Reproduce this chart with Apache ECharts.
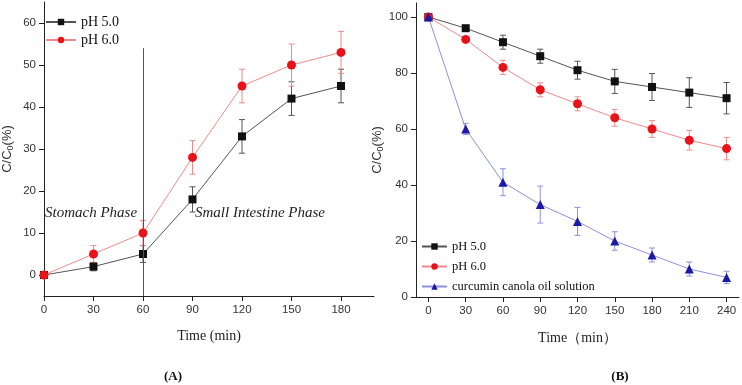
<!DOCTYPE html>
<html>
<head>
<meta charset="utf-8">
<script src="https://cdn.jsdelivr.net/npm/echarts@6.0.0/dist/echarts.min.js"></script>
<style>
  html, body { margin: 0; padding: 0; background: #fff; }
  #chart { width: 742px; height: 385px; }
</style>
</head>
<body>
<div id="chart"></div>
<script>
// (A) release in simulated digestion
const timeA = [0, 30, 60, 90, 120, 150, 180];
const phA5 = [0, 2, 5, 18, 33, 42, 45];
const errA5 = [0, 1, 2, 3, 4, 4, 4];
const phA6 = [0, 5, 10, 28, 45, 50, 53];
const errA6 = [0, 2, 3, 4, 4, 5, 5];
const ticksAx = [0, 30, 60, 90, 120, 150, 180];
const ticksAy = [0, 10, 20, 30, 40, 50, 60];
const phaseLine = [60, -5, 54]; // x, from, to

// (B) retention during storage
const timeB = [0, 30, 60, 90, 120, 150, 180, 210, 240];
const phB5 = [100, 96, 91, 86, 81, 77, 75, 73, 71];
const errB5 = [0, 1, 2.5, 2.5, 3.2, 4.3, 4.8, 5.3, 5.6];
const phB6 = [100, 92, 82, 74, 69, 64, 60, 56, 53];
const errB6 = [0, 1, 2.5, 2.5, 2.5, 3, 3, 3.5, 4];
const oilB = [100, 60, 41, 33, 27, 20, 15, 10, 7];
const errOil = [0, 2, 4.8, 6.6, 5, 3.3, 2.5, 2.5, 2.2];
const ticksBx = [0, 30, 60, 90, 120, 150, 180, 210, 240];
const ticksBy = [0, 20, 40, 60, 80, 100];

const SERIF = "'Liberation Serif', 'Times New Roman', serif";
const SANS = "'Liberation Sans', Arial, sans-serif";

const C5 = { mark: "#111", line: "#555", err: "#555" };
const C6 = { mark: "#e8121a", line: "#f08a8a", err: "#f08a8a" };
const COIL = { mark: "#1a1aa6", line: "#8f8fe0", err: "#8f8fe0" };

const pairs = (xs, ys) => xs.map((x, i) => [x, ys[i]]);

function axisBase(ticks) {
  return {
    type: "value",
    axisLine: { show: true, onZero: false, lineStyle: { color: "#222", width: 1 } },
    axisTick: { show: true, length: 5, customValues: ticks, lineStyle: { color: "#222" } },
    axisLabel: { customValues: ticks, color: "#333", fontSize: 11.5, fontFamily: SANS, margin: 8 },
    splitLine: { show: false },
  };
}

const yName = {
  name: "{a|C/C}{b|0}{a|(%)}",
  nameLocation: "middle",
  nameRotate: 90,
  nameTextStyle: {
    rich: {
      a: { fontFamily: SANS, fontSize: 13, color: "#333" },
      b: { fontFamily: SANS, fontSize: 9, color: "#333", padding: [6, 0, 0, 0] },
    },
  },
};

function lineSeries(name, xs, ys, c, symbol, size, gi) {
  return {
    name,
    type: "line",
    xAxisIndex: gi,
    yAxisIndex: gi,
    data: pairs(xs, ys),
    symbol,
    symbolSize: size,
    itemStyle: { color: c.mark },
    lineStyle: { color: c.line, width: 1 },
    z: 3,
  };
}

function errSeries(xs, ys, es, c, gi) {
  return {
    type: "custom",
    xAxisIndex: gi,
    yAxisIndex: gi,
    silent: true,
    z: 2,
    data: xs.map((x, i) => [x, ys[i] - es[i], ys[i] + es[i]]),
    encode: { x: 0, y: [1, 2] },
    renderItem(params, api) {
      const lo = api.coord([api.value(0), api.value(1)]);
      const hi = api.coord([api.value(0), api.value(2)]);
      const w = 3;
      const st = { stroke: c.err, lineWidth: 1 };
      return {
        type: "group",
        children: [
          { type: "line", shape: { x1: lo[0], y1: lo[1], x2: hi[0], y2: hi[1] }, style: st },
          { type: "line", shape: { x1: lo[0] - w, y1: lo[1], x2: lo[0] + w, y2: lo[1] }, style: st },
          { type: "line", shape: { x1: hi[0] - w, y1: hi[1], x2: hi[0] + w, y2: hi[1] }, style: st },
        ],
      };
    },
  };
}

const option = {
  animation: false,
  backgroundColor: "#fff",
  grid: [
    { left: 41, top: 2, width: 333, height: 294 },
    { left: 416, top: 3, width: 323, height: 294 },
  ],
  xAxis: [
    {
      ...axisBase(ticksAx), gridIndex: 0, min: 0, max: 200,
      name: "Time (min)", nameLocation: "middle", nameGap: 33,
      nameTextStyle: { fontFamily: SERIF, fontSize: 14, color: "#222" },
    },
    {
      ...axisBase(ticksBx), gridIndex: 1, min: -10, max: 250,
      name: "Time（min）", nameLocation: "middle", nameGap: 34,
      nameTextStyle: { fontFamily: SERIF, fontSize: 14, color: "#222" },
    },
  ],
  yAxis: [
    { ...axisBase(ticksAy), ...yName, gridIndex: 0, min: -5, max: 65, nameGap: 29 },
    { ...axisBase(ticksBy), ...yName, gridIndex: 1, min: 0, max: 105, nameGap: 31 },
  ],
  legend: [
    {
      left: 45, top: 15, padding: 0, orient: "vertical", itemWidth: 30, itemHeight: 8, itemGap: 4,
      data: ["pH 5.0", "pH 6.0"], selectedMode: false,
      textStyle: { fontFamily: SERIF, fontSize: 14, color: "#111" },
    },
    {
      left: 421, top: 240, padding: 0, orient: "vertical", itemWidth: 25, itemHeight: 8, itemGap: 7,
      data: ["pH 5.0", "pH 6.0", "curcumin canola oil solution"], selectedMode: false,
      textStyle: { fontFamily: SERIF, fontSize: 12.5, color: "#111" },
    },
  ],
  series: [
    errSeries(timeA, phA5, errA5, C5, 0),
    errSeries(timeA, phA6, errA6, C6, 0),
    {
      ...lineSeries("pH 5.0", timeA, phA5, C5, "rect", 8, 0),
      markLine: {
        silent: true,
        symbol: "none",
        label: { show: false },
        lineStyle: { color: "#555", width: 1, type: "solid" },
        data: [[{ coord: [phaseLine[0], phaseLine[1]] }, { coord: [phaseLine[0], phaseLine[2]] }]],
      },
    },
    lineSeries("pH 6.0", timeA, phA6, C6, "circle", 9, 0),
    errSeries(timeB, phB5, errB5, C5, 1),
    errSeries(timeB, phB6, errB6, C6, 1),
    errSeries(timeB, oilB, errOil, COIL, 1),
    lineSeries("pH 5.0", timeB, phB5, C5, "rect", 8, 1),
    lineSeries("pH 6.0", timeB, phB6, C6, "circle", 9, 1),
    lineSeries("curcumin canola oil solution", timeB, oilB, COIL, "triangle", 9, 1),
  ],
  graphic: [
    {
      type: "text", left: 45, top: 206,
      style: { text: "Stomach Phase", font: "italic 15px " + SERIF, fill: "#222" },
    },
    {
      type: "text", left: 195, top: 206,
      style: { text: "Small Intestine Phase", font: "italic 15px " + SERIF, fill: "#222" },
    },
    {
      type: "text", x: 173, y: 377,
      style: { text: "(A)", font: "bold 13px " + SERIF, fill: "#111", align: "center", verticalAlign: "middle" },
    },
    {
      type: "text", x: 620, y: 377,
      style: { text: "(B)", font: "bold 13px " + SERIF, fill: "#111", align: "center", verticalAlign: "middle" },
    },
  ],
};

const chart = echarts.init(document.getElementById("chart"), null, { renderer: "canvas" });
chart.setOption(option);
</script>
</body>
</html>
